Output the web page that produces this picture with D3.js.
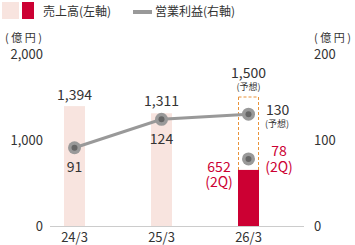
<!DOCTYPE html>
<html>
<head>
<meta charset="utf-8">
<script src="https://cdn.jsdelivr.net/npm/d3@7"></script>
<style>
  body { margin: 0; background: #fff; }
  text { font-family: "Noto Sans CJK JP", "Noto Sans", sans-serif; fill: #333; }
</style>
</head>
<body>
<div id="chart"></div>
<script>
// data
const years = ["24/3", "25/3", "26/3"];
const sales = [1394, 1311, 1500];        // 26/3 is forecast
const sales2Q = [null, null, 652];
const profit = [91, 124, 130];           // 26/3 is forecast
const profit2Q = [null, null, 78];
const leftTicks = [0, 1000, 2000];
const rightTicks = [0, 100, 200];

const width = 355, height = 245;
const pale = "#f8e4df", red = "#cc0033", gray = "#999", dark = "#666";

const svg = d3.select("#chart").append("svg")
    .attr("width", width)
    .attr("height", height);

const x = d3.scaleBand().domain(years).range([31, 292]).paddingInner(0).paddingOuter(0);
const yL = d3.scaleLinear().domain([0, 2000]).range([226, 54]);
const yR = d3.scaleLinear().domain([0, 200]).range([226, 54]);
const cx = d => x(d) + x.bandwidth() / 2;
const bw = 21;

// legend
svg.append("rect").attr("x", 2).attr("y", 2).attr("width", 17).attr("height", 17).attr("fill", pale);
svg.append("rect").attr("x", 22).attr("y", 2).attr("width", 12).attr("height", 17).attr("fill", red);
svg.append("text").attr("x", 43).attr("y", 16).attr("font-size", 12).text("売上高(左軸)");
svg.append("rect").attr("x", 133).attr("y", 10).attr("width", 19).attr("height", 4).attr("fill", gray);
svg.append("text").attr("x", 155).attr("y", 16).attr("font-size", 12).text("営業利益(右軸)");

// axis units
svg.append("text").attr("x", 5).attr("y", 42).attr("font-size", 11)
    .attr("textLength", 37).attr("lengthAdjust", "spacing").text("(億円)");
svg.append("text").attr("x", 314).attr("y", 42).attr("font-size", 11)
    .attr("textLength", 37).attr("lengthAdjust", "spacing").text("(億円)");

// y tick labels
svg.selectAll(".lt").data(leftTicks).enter().append("text")
    .attr("x", 43).attr("y", d => yL(d) + 5)
    .attr("text-anchor", "end").attr("font-size", 13)
    .text(d => d3.format(",")(d));
svg.selectAll(".rt").data(rightTicks).enter().append("text")
    .attr("x", 314).attr("y", d => yR(d) + 5)
    .attr("font-size", 13)
    .text(d => d);

// bars (actual years pale, forecast year dashed box)
svg.selectAll(".bar").data(years.slice(0, 2)).enter().append("rect")
    .attr("x", d => cx(d) - bw / 2)
    .attr("y", (d, i) => yL(sales[i]))
    .attr("width", bw)
    .attr("height", (d, i) => yL(0) - yL(sales[i]))
    .attr("fill", pale);

const f = years[2];
svg.append("rect")
    .attr("x", cx(f) - bw / 2 + 0.5)
    .attr("y", yL(sales[2]))
    .attr("width", bw - 1)
    .attr("height", yL(0) - yL(sales[2]))
    .attr("fill", "none")
    .attr("stroke", "#e8923a")
    .attr("stroke-width", 1)
    .attr("stroke-dasharray", "3,2");
svg.append("rect")
    .attr("x", cx(f) - bw / 2)
    .attr("y", yL(sales2Q[2]))
    .attr("width", bw)
    .attr("height", yL(0) - yL(sales2Q[2]))
    .attr("fill", red);

// baseline
svg.append("line").attr("x1", 50).attr("x2", 304).attr("y1", 226.5).attr("y2", 226.5)
    .attr("stroke", "#ccc").attr("stroke-width", 1);

// x labels
svg.selectAll(".xl").data(years).enter().append("text")
    .attr("x", d => cx(d)).attr("y", 242)
    .attr("text-anchor", "middle").attr("font-size", 13)
    .text(d => d);

// profit line
const line = d3.line().x((d, i) => cx(years[i])).y(d => yR(d));
svg.append("path").datum(profit).attr("d", line)
    .attr("fill", "none").attr("stroke", gray).attr("stroke-width", 3);

function dot(px, py) {
    svg.append("circle").attr("cx", px).attr("cy", py).attr("r", 6.5).attr("fill", gray);
    svg.append("circle").attr("cx", px).attr("cy", py).attr("r", 3).attr("fill", dark);
}
profit.forEach((d, i) => dot(cx(years[i]), yR(d)));
dot(cx(f), yR(profit2Q[2]));

// value labels
const fmt = d3.format(",");
svg.append("text").attr("x", cx(years[0])).attr("y", 100).attr("text-anchor", "middle")
    .attr("font-size", 14).text(fmt(sales[0]));
svg.append("text").attr("x", cx(years[1])).attr("y", 106).attr("text-anchor", "middle")
    .attr("font-size", 14).text(fmt(sales[1]));
svg.append("text").attr("x", cx(years[0])).attr("y", 172).attr("text-anchor", "middle")
    .attr("font-size", 14).text(profit[0]);
svg.append("text").attr("x", cx(years[1])).attr("y", 144).attr("text-anchor", "middle")
    .attr("font-size", 14).text(profit[1]);

svg.append("text").attr("x", cx(f)).attr("y", 78).attr("text-anchor", "middle")
    .attr("font-size", 14).text(fmt(sales[2]));
svg.append("text").attr("x", cx(f)).attr("y", 90).attr("text-anchor", "middle")
    .attr("font-size", 9).text("(予想)");
svg.append("text").attr("x", 266).attr("y", 115)
    .attr("font-size", 14).text(profit[2]);
svg.append("text").attr("x", 265).attr("y", 127)
    .attr("font-size", 9).text("(予想)");

svg.append("text").attr("x", 279).attr("y", 156).attr("text-anchor", "middle")
    .attr("font-size", 14).style("fill", red).text(profit2Q[2]);
svg.append("text").attr("x", 279).attr("y", 172).attr("text-anchor", "middle")
    .attr("font-size", 14).style("fill", red).text("(2Q)");
svg.append("text").attr("x", 219).attr("y", 172).attr("text-anchor", "middle")
    .attr("font-size", 14).style("fill", red).text(sales2Q[2]);
svg.append("text").attr("x", 219).attr("y", 187).attr("text-anchor", "middle")
    .attr("font-size", 14).style("fill", red).text("(2Q)");
</script>
</body>
</html>
